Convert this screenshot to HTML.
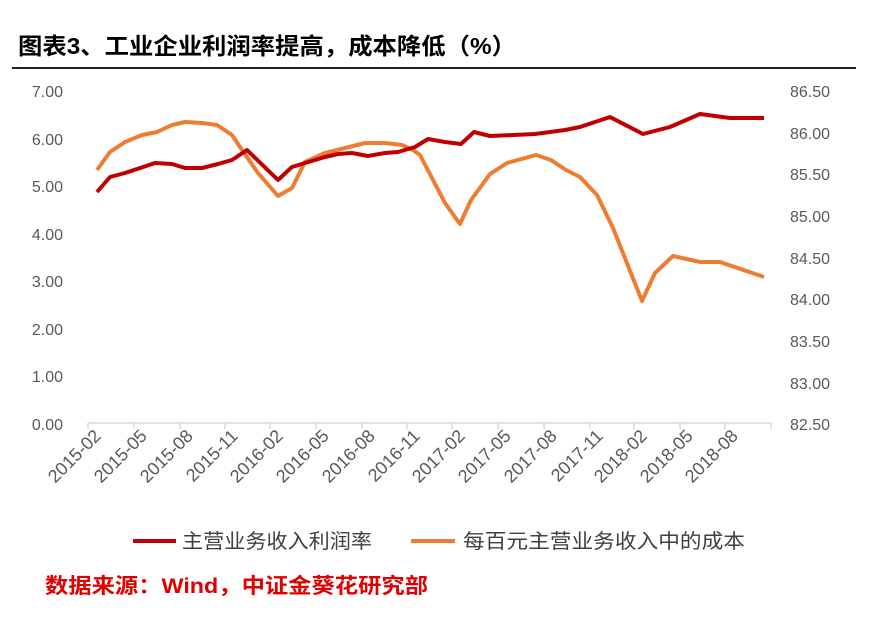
<!DOCTYPE html>
<html><head><meta charset="utf-8"><style>
body{margin:0;background:#fff;width:870px;height:633px;overflow:hidden;font-family:"Liberation Sans","Noto Sans CJK SC",sans-serif}
</style></head><body>
<svg width="870" height="633" xmlns="http://www.w3.org/2000/svg" font-family="Liberation Sans, Noto Sans CJK SC, sans-serif">
<text x="18" y="54" font-size="23" font-weight="bold" fill="#000" textLength="498" lengthAdjust="spacingAndGlyphs">图表3、工业企业利润率提高，成本降低（%）</text>
<line x1="12" y1="68" x2="856" y2="68" stroke="#222" stroke-width="2"/>
<g font-size="16" fill="#595959">
<text x="63" y="97" text-anchor="end">7.00</text>
<text x="63" y="145" text-anchor="end">6.00</text>
<text x="63" y="192" text-anchor="end">5.00</text>
<text x="63" y="240" text-anchor="end">4.00</text>
<text x="63" y="287" text-anchor="end">3.00</text>
<text x="63" y="335" text-anchor="end">2.00</text>
<text x="63" y="382" text-anchor="end">1.00</text>
<text x="63" y="430" text-anchor="end">0.00</text>
<text x="790" y="97">86.50</text>
<text x="790" y="139">86.00</text>
<text x="790" y="180">85.50</text>
<text x="790" y="222">85.00</text>
<text x="790" y="264">84.50</text>
<text x="790" y="305">84.00</text>
<text x="790" y="347">83.50</text>
<text x="790" y="389">83.00</text>
<text x="790" y="430">82.50</text>
</g>
<line x1="88" y1="423" x2="771" y2="423" stroke="#d9d9d9" stroke-width="1.5"/>
<g stroke="#d9d9d9" stroke-width="1.5">
<line x1="88" y1="423" x2="88" y2="429"/><line x1="134" y1="423" x2="134" y2="429"/><line x1="180" y1="423" x2="180" y2="429"/><line x1="225" y1="423" x2="225" y2="429"/><line x1="270" y1="423" x2="270" y2="429"/><line x1="316" y1="423" x2="316" y2="429"/><line x1="362" y1="423" x2="362" y2="429"/><line x1="407" y1="423" x2="407" y2="429"/><line x1="452" y1="423" x2="452" y2="429"/><line x1="498" y1="423" x2="498" y2="429"/><line x1="544" y1="423" x2="544" y2="429"/><line x1="590" y1="423" x2="590" y2="429"/><line x1="634" y1="423" x2="634" y2="429"/><line x1="680" y1="423" x2="680" y2="429"/><line x1="725" y1="423" x2="725" y2="429"/><line x1="771" y1="423" x2="771" y2="429"/>
</g>
<g font-size="18" fill="#595959" text-anchor="end">
<text transform="translate(102,437) rotate(-45)">2015-02</text>
<text transform="translate(148,437) rotate(-45)">2015-05</text>
<text transform="translate(194,437) rotate(-45)">2015-08</text>
<text transform="translate(239,437) rotate(-45)">2015-11</text>
<text transform="translate(284,437) rotate(-45)">2016-02</text>
<text transform="translate(330,437) rotate(-45)">2016-05</text>
<text transform="translate(376,437) rotate(-45)">2016-08</text>
<text transform="translate(421,437) rotate(-45)">2016-11</text>
<text transform="translate(466,437) rotate(-45)">2017-02</text>
<text transform="translate(512,437) rotate(-45)">2017-05</text>
<text transform="translate(558,437) rotate(-45)">2017-08</text>
<text transform="translate(604,437) rotate(-45)">2017-11</text>
<text transform="translate(648,437) rotate(-45)">2018-02</text>
<text transform="translate(694,437) rotate(-45)">2018-05</text>
<text transform="translate(739,437) rotate(-45)">2018-08</text>
</g>
<polyline fill="none" stroke="#ed7d31" stroke-width="4" stroke-linejoin="round" points="97,170 110,152 125,142 142,135 157,132 172,125 185,122 202,123 217,125 232,135 242,150 258,173 278,196 292,188 305,162 325,153 345,148 365,143 385,143 402,145 413,150 420,155 445,203 460,224 471,200 490,174 507,163 536,155 551,160 566,170 580,177 597,195 613,228 642,301 655,273 673,256 700,262 720,262 764,277"/>
<polyline fill="none" stroke="#c00000" stroke-width="4" stroke-linejoin="round" points="97,192 110,177 125,173 155,163 172,164 185,168 202,168 218,164 232,160 247,150 278,180 292,167 305,163 325,157 338,154 352,153 368,156 385,153 398,152 415,147 428,139 445,142 461,144 474,132 490,136 535,134 565,130 580,127 610,117 643,134 670,127 700,114 730,118 764,118"/>
<line x1="133" y1="541" x2="176" y2="541" stroke="#c00000" stroke-width="4"/>
<text x="182" y="548" font-size="20" fill="#404040" textLength="190" lengthAdjust="spacingAndGlyphs">主营业务收入利润率</text>
<line x1="411" y1="541" x2="455" y2="541" stroke="#ed7d31" stroke-width="4"/>
<text x="463" y="548" font-size="20" fill="#404040" textLength="282" lengthAdjust="spacingAndGlyphs">每百元主营业务收入中的成本</text>
<text x="45" y="593" font-size="21" font-weight="bold" fill="#e00000" textLength="383" lengthAdjust="spacingAndGlyphs">数据来源：Wind，中证金葵花研究部</text>
</svg>
</body></html>
